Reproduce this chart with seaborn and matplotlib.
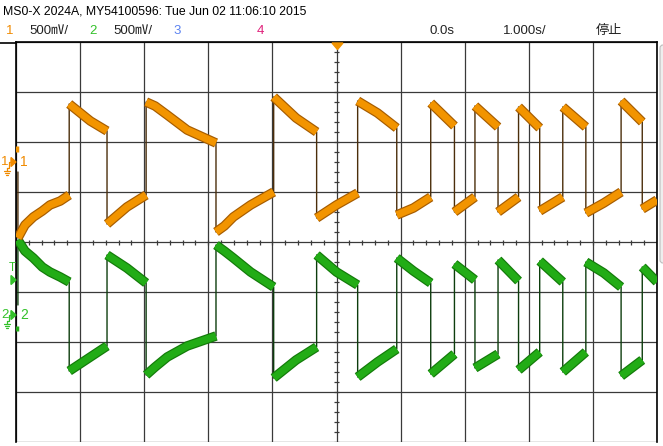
import matplotlib
matplotlib.use("Agg")
import matplotlib.pyplot as plt
import matplotlib.patheffects as pe
from matplotlib.patches import Polygon, FancyBboxPatch
import numpy as np
import pandas as pd
import seaborn as sns

sns.set_style("white")
plt.rcParams["font.family"] = ["Liberation Sans", "Noto Sans CJK JP", "DejaVu Sans"]

# time of each ramp point (s, 1 s/div, 0 at screen centre)
ramp_t = [
    [-4.97, -4.86, -4.73, -4.59, -4.47, -4.31, -4.17],
    [-4.17, -3.84, -3.58],
    [-3.58, -3.27, -2.97],
    [-2.97, -2.83, -2.64, -2.33, -1.88],
    [-1.88, -1.75, -1.61, -1.34, -0.98],
    [-0.98, -0.63, -0.31],
    [-0.31, 0.00, 0.33],
    [0.33, 0.64, 0.94],
    [0.94, 1.20, 1.47],
    [1.47, 1.84],
    [1.84, 2.16],
    [2.16, 2.52],
    [2.52, 2.84],
    [2.84, 3.17],
    [3.17, 3.53],
    [3.53, 3.89],
    [3.89, 4.17, 4.44],
    [4.44, 4.77],
    [4.77, 5.00],
]

# screen level in divisions (0 = centre line)
ch1_v = [
    [0.08, 0.34, 0.50, 0.62, 0.74, 0.82, 0.94],
    [2.76, 2.42, 2.22],
    [0.36, 0.70, 0.94],
    [2.80, 2.72, 2.54, 2.24, 1.98],
    [0.20, 0.32, 0.50, 0.74, 1.00],
    [2.90, 2.48, 2.20],
    [0.48, 0.74, 0.98],
    [2.82, 2.58, 2.28],
    [0.54, 0.68, 0.90],
    [2.78, 2.32],
    [0.60, 0.90],
    [2.72, 2.30],
    [0.60, 0.90],
    [2.70, 2.28],
    [0.62, 0.90],
    [2.70, 2.30],
    [0.58, 0.78, 1.00],
    [2.82, 2.40],
    [0.66, 0.84],
]

ch2_v = [
    [0.04, -0.18, -0.32, -0.50, -0.60, -0.70, -0.80],
    [-2.58, -2.30, -2.08],
    [-0.26, -0.52, -0.82],
    [-2.66, -2.50, -2.30, -2.08, -1.88],
    [-0.06, -0.18, -0.32, -0.60, -0.90],
    [-2.72, -2.36, -2.10],
    [-0.26, -0.60, -0.86],
    [-2.70, -2.40, -2.14],
    [-0.32, -0.58, -0.82],
    [-2.64, -2.24],
    [-0.44, -0.76],
    [-2.52, -2.24],
    [-0.36, -0.78],
    [-2.56, -2.20],
    [-0.38, -0.80],
    [-2.60, -2.20],
    [-0.40, -0.62, -0.90],
    [-2.68, -2.36],
    [-0.50, -0.80],
]

# stray bits at the very left edge
ch1_lead_v = [1.40, 0.08]
ch2_lead_v = [-1.26, 0.04]
ch1_blip_v = [1.92, 1.80]
ch2_blip_v = [-1.68, -1.78]
lead_t = -4.97
blip_t = -4.985

ORANGE, ORANGE_EDGE, ORANGE_DARK = "#F29400", "#A65C00", "#4B2E0B"
GREEN, GREEN_EDGE, GREEN_DARK = "#22AC16", "#137A0A", "#0D3D0D"


def ramps_frame(values):
    rows = []
    for i, (ts, vs) in enumerate(zip(ramp_t, values)):
        for t, v in zip(ts, vs):
            rows.append({"seg": i, "t": t, "v": v})
    return pd.DataFrame(rows)


W, H = 663, 446
fig = plt.figure(figsize=(W / 100, H / 100), dpi=100)
fig.patch.set_facecolor("white")
ax = fig.add_axes([16 / W, (H - 442) / H, 641 / W, 400 / H])
ax.set_xlim(-5, 5)
ax.set_ylim(-4, 4)
ax.set_xticks(np.arange(-5, 6))
ax.set_yticks(np.arange(-4, 5))
ax.set_xticklabels([])
ax.set_yticklabels([])
ax.tick_params(length=0)
ax.grid(True, color="#3a3a3a", lw=0.9)
ax.set_axisbelow(True)
for side in ["left", "top", "right"]:
    ax.spines[side].set_color("black")
    ax.spines[side].set_linewidth(1.2)
ax.spines["bottom"].set_visible(False)

# minor ticks on the centre lines
minor = np.arange(-5, 5.01, 0.2)
ax.vlines(minor, -0.05, 0.05, color="#3a3a3a", lw=0.9)
minor_y = np.arange(-4, 4.01, 0.2)
ax.hlines(minor_y, -0.04, 0.04, color="#3a3a3a", lw=0.9)

for vals, lead_v, blip_v, band, edge, dark in [
    (ch2_v, ch2_lead_v, ch2_blip_v, GREEN, GREEN_EDGE, GREEN_DARK),
    (ch1_v, ch1_lead_v, ch1_blip_v, ORANGE, ORANGE_EDGE, ORANGE_DARK),
]:
    ramps = ramps_frame(vals)
    trace = pd.concat(
        [pd.DataFrame({"t": [lead_t, lead_t], "v": lead_v}), ramps[["t", "v"]]],
        ignore_index=True,
    )
    sns.lineplot(data=trace, x="t", y="v", sort=False, estimator=None,
                 color=dark, lw=1.0, ax=ax, legend=False, zorder=3)
    sns.lineplot(data=ramps, x="t", y="v", units="seg", sort=False, estimator=None,
                 color=band, lw=5.2, ax=ax, legend=False, zorder=4,
                 solid_capstyle="butt", solid_joinstyle="round",
                 path_effects=[pe.Stroke(linewidth=6.9, foreground=edge), pe.Normal()])
    blip = pd.DataFrame({"t": [blip_t, blip_t], "v": blip_v})
    sns.lineplot(data=blip, x="t", y="v", sort=False, estimator=None,
                 color=band, lw=2.5, ax=ax, legend=False, zorder=4,
                 solid_capstyle="butt")
ax.set_xlabel("")
ax.set_ylabel("")

# overlay in pixel coordinates for the screen annotations
ov = fig.add_axes([0, 0, 1, 1])
ov.set_xlim(0, W)
ov.set_ylim(H, 0)
ov.axis("off")
ov.patch.set_alpha(0)

ov.plot([0, 16], [43, 43], color="black", lw=1.2)
ov.add_patch(Polygon([(332, 43), (343, 43), (337.5, 49.5)], closed=True,
                     color=ORANGE, clip_on=False))
ov.add_patch(FancyBboxPatch((660, 45), 6, 218, boxstyle="round,pad=0,rounding_size=3",
                            fc="#eeeeee", ec="#bdbdbd", lw=0.8))

ov.text(3, 11, "MS0-X 2024A, MY54100596: Tue Jun 02 11:06:10 2015",
        fontsize=8.8, va="center", ha="left", color="black")
row = [
    (6, "1", "#F08A00"),
    (29, "500㎷/", "#222222"),
    (89, "2", "#33C12A"),
    (113, "500㎷/", "#222222"),
    (173, "3", "#5B82F0"),
    (257, "4", "#E0207A"),
    (430, "0.0s", "#222222"),
    (503, "1.000s/", "#222222"),
    (596, "停止", "#222222"),
]
for x, s, c in row:
    ov.text(x, 31, s, fontsize=9.5, va="center", ha="left", color=c)


def ground_marker(y, label, color):
    ov.text(1, y, label, fontsize=9.5, va="center", ha="left", color=color)
    ov.plot([6.5, 9, 9, 12], [y + 6, y + 6, y, y], color=color, lw=0.9)
    ov.plot([6.5, 6.5], [y + 6, y + 8.5], color=color, lw=0.9)
    ov.plot([3.5, 9.5], [y + 8.5, y + 8.5], color=color, lw=0.9)
    ov.plot([4.5, 8.5], [y + 10.5, y + 10.5], color=color, lw=0.9)
    ov.plot([5.5, 7.5], [y + 12.5, y + 12.5], color=color, lw=0.9)
    ov.add_patch(Polygon([(11, y - 4.5), (16, y), (11, y + 4.5)], closed=True, color=color))
    ov.text(20, y, label, fontsize=10, va="center", ha="left", color=color)


ground_marker(162, "1", "#F08A00")
ground_marker(315, "2", "#33C12A")
ov.text(9, 268, "T", fontsize=8.5, va="center", ha="left", color="#33C12A")
ov.add_patch(Polygon([(11, 275.5), (16, 280), (11, 284.5)], closed=True, color="#33C12A"))

fig.savefig("out.png", dpi=100)
